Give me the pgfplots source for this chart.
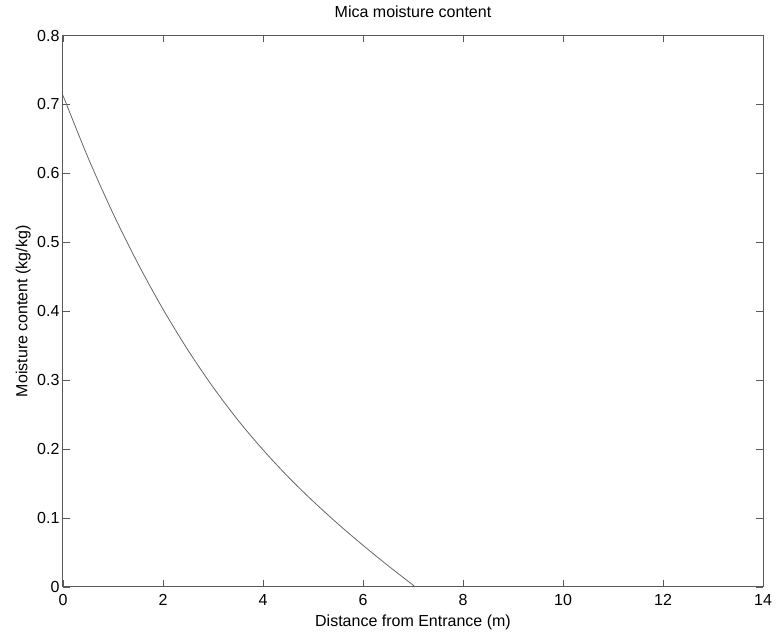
\documentclass[border=0pt]{standalone}
\usepackage{fontspec}
\setmainfont{Liberation Sans}
\usepackage{pgfplots}
\pgfplotsset{compat=1.18}
\begin{document}
\begin{tikzpicture}[font=\fontsize{16}{18}\selectfont]
\begin{axis}[
  scale only axis,
  width=700pt, height=551.5pt,
  xmin=0, xmax=14, ymin=0, ymax=0.8,
  xtick={0,2,4,6,8,10,12,14},
  ytick={0,0.1,0.2,0.3,0.4,0.5,0.6,0.7,0.8},
  yticklabels={0,0.1,0.2,0.3,0.4,0.5,0.6,0.7,0.8},
  /pgf/number format/assume math mode=true,
  tick align=inside,
  major tick length=7pt,
  tick style={black!65, line width=0.8pt},
  axis line style={black!65, line width=1pt},
  title={Mica moisture content},
  title style={at={(axis description cs:0.5,1)}, anchor=base, yshift=12pt},
  xlabel={Distance from Entrance (m)},
  xlabel style={at={(axis description cs:0.5,0)}, anchor=base, yshift=-39.7pt},
  ylabel={Moisture content (kg/kg)},
  ylabel style={at={(axis description cs:-0.051,0.5)}, anchor=base},
  xticklabel style={yshift=-4pt},
]
\addplot[black!60, line width=0.8pt, smooth] coordinates {
(0,0.713) (0.5,0.623) (1,0.542) (1.5,0.469) (2,0.403) (2.5,0.3435)
(3,0.290) (3.5,0.242) (4,0.199) (4.5,0.160) (5,0.1245) (5.5,0.0915)
(6,0.0605) (6.5,0.031) (7.05,0)
};
\coordinate (ll) at (rel axis cs:0,0);
\coordinate (ur) at (rel axis cs:1,1);
\end{axis}
\pgfresetboundingbox
\path ([shift={(-63pt,-50pt)}]ll) rectangle ([shift={(13pt,35.5pt)}]ur);
\end{tikzpicture}
\end{document}
